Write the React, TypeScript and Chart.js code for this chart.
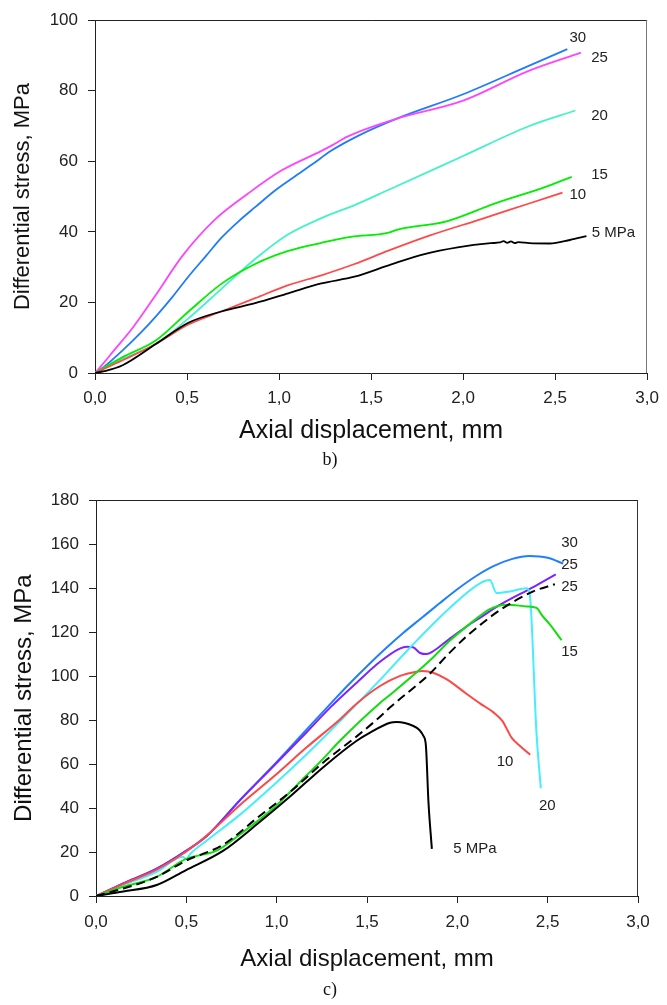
import React, { useEffect, useRef } from 'react';
import { Chart, registerables } from 'chart.js';

Chart.register(...registerables);

// ---------- Panel b) data ----------
const b30X = [0, 0.05, 0.15, 0.25, 0.33, 0.42, 0.51, 0.6, 0.69, 0.78, 0.87, 0.98, 1.08, 1.19, 1.28, 1.44, 1.64, 2.0, 2.35, 2.566];
const b30Y = [0, 1.8, 6.4, 11.5, 16.0, 21.5, 27.5, 33.0, 38.5, 43.0, 47.0, 51.8, 55.5, 59.5, 62.9, 67.5, 72.1, 79.0, 86.9, 91.8];

const b25X = [0, 0.05, 0.1, 0.206, 0.33, 0.475, 0.65, 0.83, 1.01, 1.228, 1.29, 1.371, 1.64, 2.0, 2.35, 2.64];
const b25Y = [0, 3.0, 6.2, 12.9, 22.1, 33.2, 43.4, 50.8, 57.3, 62.9, 64.6, 67.0, 72.1, 77.2, 85.5, 90.8];

const b20X = [0, 0.15, 0.33, 0.51, 0.69, 0.87, 1.05, 1.23, 1.41, 1.59, 2.0, 2.35, 2.61];
const b20Y = [0, 4.0, 8.2, 15.6, 24.0, 32.3, 39.3, 43.9, 47.6, 51.8, 61.5, 69.8, 74.4];

const b15X = [0, 0.15, 0.33, 0.51, 0.69, 0.87, 1.05, 1.23, 1.39, 1.59, 1.64, 1.91, 2.17, 2.44, 2.59];
const b15Y = [0, 4.5, 9.2, 17.5, 25.4, 30.9, 34.6, 36.9, 38.6, 39.7, 40.6, 43.0, 48.0, 52.6, 55.6];

const b10X = [0, 0.15, 0.33, 0.51, 0.69, 0.87, 1.05, 1.23, 1.41, 1.59, 1.82, 2.09, 2.35, 2.54];
const b10Y = [0, 3.6, 8.2, 13.8, 17.5, 21.2, 24.9, 27.7, 30.9, 34.6, 39.0, 43.5, 47.9, 51.1];

const b5X = [0, 0.05, 0.15, 0.33, 0.51, 0.69, 0.87, 1.05, 1.23, 1.41, 1.61, 1.79, 1.97, 2.15, 2.2, 2.22, 2.24, 2.26, 2.28, 2.3, 2.36, 2.47, 2.58, 2.67];
const b5Y = [0, 0.5, 2.2, 8.2, 14.3, 17.5, 19.8, 22.6, 25.4, 27.3, 30.8, 33.7, 35.6, 36.8, 37.0, 37.4, 36.9, 37.3, 36.8, 37.1, 36.8, 36.7, 37.7, 38.8];

const bLabelText = ['30', '25', '20', '15', '10', '5 MPa'];
const bLabelX = [2.623, 2.741, 2.741, 2.741, 2.623, 2.817];
const bLabelY = [95.0, 89.4, 72.8, 56.1, 50.6, 39.7];

// ---------- Panel c) data ----------
const c30X = [0, 0.151, 0.336, 0.496, 0.613, 0.797, 0.982, 1.166, 1.3, 1.4, 1.5, 1.6, 1.7, 1.8, 1.9, 2.0, 2.1, 2.2, 2.3, 2.4, 2.5, 2.586];
const c30Y = [0, 5.7, 12.4, 20.4, 27.3, 43.7, 59.4, 75.8, 87.6, 96.3, 104.5, 112.3, 119.6, 126.3, 133.0, 139.5, 145.3, 150.0, 153.2, 154.6, 153.8, 151.2];

const c25X = [0, 0.151, 0.336, 0.496, 0.613, 0.797, 0.982, 1.166, 1.3, 1.443, 1.572, 1.681, 1.72, 1.755, 1.794, 1.83, 1.866, 1.95, 2.05, 2.127, 2.235, 2.42, 2.545];
const c25Y = [0, 5.7, 12.4, 20.4, 27.3, 43.5, 59.0, 74.5, 86.0, 97.0, 106.5, 112.5, 113.4, 113.1, 110.5, 110.0, 111.3, 116.5, 122.5, 126.6, 132.4, 140.5, 146.3];

const c20X = [0, 0.151, 0.336, 0.48, 0.5, 0.52, 0.613, 0.797, 0.982, 1.166, 1.35, 1.554, 1.757, 1.958, 2.127, 2.18, 2.217, 2.29, 2.383, 2.401, 2.438, 2.462];
const c20Y = [0, 5.0, 11.0, 17.8, 16.8, 19.0, 25.2, 37.0, 50.4, 64.5, 79.5, 96.7, 114.6, 131.0, 142.3, 143.7, 137.8, 138.5, 140.0, 137.0, 74.3, 49.0];

const c25dX = [0, 0.151, 0.336, 0.496, 0.705, 0.889, 1.074, 1.258, 1.443, 1.572, 1.628, 1.849, 1.95, 2.05, 2.127, 2.235, 2.42, 2.54];
const c25dY = [0, 3.4, 8.7, 16.0, 23.4, 35.3, 47.3, 60.7, 72.6, 81.5, 85.8, 101.2, 110.0, 118.0, 123.3, 130.0, 138.5, 141.8];

const c15X = [0, 0.151, 0.336, 0.496, 0.668, 0.797, 0.982, 1.166, 1.258, 1.35, 1.572, 1.628, 1.849, 1.958, 2.05, 2.127, 2.18, 2.272, 2.383, 2.438, 2.47, 2.512, 2.577];
const c15Y = [0, 4.2, 8.7, 16.8, 20.6, 28.0, 40.0, 54.9, 62.5, 70.6, 87.8, 91.5, 107.2, 116.1, 122.5, 127.5, 130.5, 132.5, 131.7, 131.0, 127.5, 123.5, 116.3];

const c10X = [0, 0.151, 0.336, 0.496, 0.613, 0.797, 0.982, 1.166, 1.35, 1.45, 1.572, 1.68, 1.773, 1.81, 1.866, 1.942, 2.05, 2.127, 2.2, 2.25, 2.28, 2.3, 2.35, 2.403];
const c10Y = [0, 5.5, 12.0, 20.0, 27.5, 41.4, 54.2, 67.6, 80.3, 88.0, 95.5, 100.0, 102.0, 102.3, 101.5, 98.5, 92.0, 87.5, 83.5, 79.5, 75.0, 72.0, 68.0, 64.2];

const c5X = [0, 0.151, 0.336, 0.496, 0.705, 0.889, 1.074, 1.258, 1.443, 1.517, 1.628, 1.665, 1.757, 1.79, 1.812, 1.826, 1.84, 1.859];
const c5Y = [0, 2.0, 5.0, 11.7, 20.6, 32.5, 45.2, 58.6, 70.6, 74.3, 78.8, 79.1, 77.3, 75.5, 72.8, 68.4, 43.0, 21.4];

const cLabelText = ['30', '25', '25', '15', '10', '20', '5 MPa'];
const cLabelX = [2.621, 2.621, 2.621, 2.621, 2.264, 2.498, 2.098];
const cLabelY = [160.5, 150.7, 140.8, 110.9, 61.2, 41.1, 21.4];

const xTickStep = 0.5;
const xMax = 3;
const bYMax = 100;
const cYMax = 180;
const yTickStep = 20;

const SANS = "'Liberation Sans', Arial, Helvetica, sans-serif";

function pts(xs: number[], ys: number[]) {
  return xs.map((x, i) => ({ x, y: ys[i] }));
}

const framePlugin = {
  id: 'frame',
  afterDraw(chart: any, _args: any, opts: any) {
    const { ctx, chartArea } = chart;
    const { left, top, right, bottom } = chartArea;
    ctx.save();
    ctx.lineWidth = 1;
    ctx.strokeStyle = opts.topColor || '#222';
    ctx.beginPath();
    ctx.moveTo(left, Math.round(top) + 0.5);
    ctx.lineTo(right, Math.round(top) + 0.5);
    ctx.stroke();
    ctx.strokeStyle = opts.rightColor || '#222';
    ctx.beginPath();
    ctx.moveTo(Math.round(right) - 0.5, top);
    ctx.lineTo(Math.round(right) - 0.5, bottom);
    ctx.stroke();
    ctx.restore();
  },
};

const curveLabelPlugin = {
  id: 'curveLabels',
  afterDatasetsDraw(chart: any, _args: any, opts: any) {
    const { ctx } = chart;
    const xs = chart.scales.x;
    const ys = chart.scales.y;
    ctx.save();
    ctx.font = opts.font;
    ctx.fillStyle = opts.color;
    ctx.textAlign = 'center';
    ctx.textBaseline = 'middle';
    (opts.texts as string[]).forEach((t, i) => {
      ctx.fillText(t, xs.getPixelForValue(opts.xs[i]), ys.getPixelForValue(opts.ys[i]));
    });
    ctx.restore();
  },
};

type Series = { xs: number[]; ys: number[]; color: string; dash?: number[] };

type PanelProps = {
  width: number;
  height: number;
  series: Series[];
  yMax: number;
  area: { left: number; top: number; right: number; bottom: number };
  yTitleSize: number;
  yTitlePad: number;
  xTitleSize: number;
  xTitlePad: number;
  xTickPad: number;
  rightColor: string;
  labels: { texts: string[]; xs: number[]; ys: number[] };
  lineWidth: number;
};

function Panel(p: PanelProps) {
  const ref = useRef<HTMLCanvasElement | null>(null);
  useEffect(() => {
    if (!ref.current) return;
    const a = p.area;
    const chart = new Chart(ref.current, {
      type: 'scatter',
      data: {
        datasets: p.series.map((s) => ({
          data: pts(s.xs, s.ys),
          showLine: true,
          borderColor: s.color,
          backgroundColor: s.color,
          borderWidth: p.lineWidth,
          borderDash: s.dash || [],
          pointRadius: 0,
          pointHoverRadius: 0,
          cubicInterpolationMode: 'monotone',
          fill: false,
        })),
      },
      options: {
        animation: false,
        responsive: false,
        devicePixelRatio: 1,
        events: [],
        layout: { padding: { top: a.top, right: p.width - a.right, left: 0, bottom: 0 } },
        plugins: {
          legend: { display: false },
          tooltip: { enabled: false },
          frame: { topColor: '#222', rightColor: p.rightColor },
          curveLabels: {
            texts: p.labels.texts,
            xs: p.labels.xs,
            ys: p.labels.ys,
            font: `15px ${SANS}`,
            color: '#222',
          },
        } as any,
        scales: {
          x: {
            type: 'linear',
            min: 0,
            max: xMax,
            afterFit: (s: any) => {
              s.height = p.height - a.bottom;
            },
            ticks: {
              stepSize: xTickStep,
              padding: p.xTickPad,
              color: '#222',
              font: { family: SANS, size: 17 },
              maxRotation: 0,
              callback: (v: any) => Number(v).toFixed(1).replace('.', ','),
            },
            grid: { drawOnChartArea: false, drawTicks: true, tickLength: 7, color: '#222', lineWidth: 1 },
            border: { display: true, color: '#222', width: 1 },
            title: {
              display: true,
              text: 'Axial displacement, mm',
              color: '#111',
              font: { family: SANS, size: p.xTitleSize, lineHeight: 1.2 },
              padding: { top: 0, bottom: p.xTitlePad },
            },
          },
          y: {
            type: 'linear',
            min: 0,
            max: p.yMax,
            afterFit: (s: any) => {
              s.width = a.left;
            },
            ticks: {
              stepSize: yTickStep,
              padding: 10,
              color: '#222',
              font: { family: SANS, size: 17 },
            },
            grid: { drawOnChartArea: false, drawTicks: true, tickLength: 7, color: '#222', lineWidth: 1 },
            border: { display: true, color: '#222', width: 1 },
            title: {
              display: true,
              text: 'Differential stress, MPa',
              color: '#111',
              font: { family: SANS, size: p.yTitleSize, lineHeight: 1.2 },
              padding: { top: p.yTitlePad, bottom: 0 },
            },
          },
        },
      } as any,
      plugins: [framePlugin, curveLabelPlugin] as any,
    });
    // nudge layout padding so that the plot area lands exactly where intended
    for (let k = 0; k < 3; k++) {
      const ca = chart.chartArea;
      const pad: any = { ...(chart.options.layout as any).padding };
      const dt = a.top - ca.top;
      const dr = ca.right - a.right;
      const dl = a.left - ca.left;
      if (Math.abs(dt) < 0.5 && Math.abs(dr) < 0.5 && Math.abs(dl) < 0.5) break;
      pad.top = (pad.top || 0) + dt;
      pad.right = (pad.right || 0) + dr;
      pad.left = Math.max(0, (pad.left || 0) + dl);
      (chart.options.layout as any).padding = pad;
      chart.update();
    }
    return () => chart.destroy();
  }, []);
  return <canvas ref={ref} width={p.width} height={p.height} style={{ display: 'block' }} />;
}

const captionStyle: React.CSSProperties = {
  position: 'absolute',
  width: 60,
  textAlign: 'center',
  fontFamily: "'Liberation Serif', 'Times New Roman', serif",
  fontSize: 18,
  lineHeight: '22px',
  color: '#111',
};

export default function App() {
  const bSeries: Series[] = [
    { xs: b5X, ys: b5Y, color: '#000000' },
    { xs: b10X, ys: b10Y, color: '#ff4a4a' },
    { xs: b15X, ys: b15Y, color: '#00ee00' },
    { xs: b20X, ys: b20Y, color: '#44f2c6' },
    { xs: b25X, ys: b25Y, color: '#ff44ff' },
    { xs: b30X, ys: b30Y, color: '#1f7cff' },
  ];
  const cSeries: Series[] = [
    { xs: c5X, ys: c5Y, color: '#000000' },
    { xs: c25dX, ys: c25dY, color: '#000000', dash: [9, 5] },
    { xs: c15X, ys: c15Y, color: '#11dd11' },
    { xs: c10X, ys: c10Y, color: '#ff4747' },
    { xs: c20X, ys: c20Y, color: '#44eeff' },
    { xs: c25X, ys: c25Y, color: '#7f22ff' },
    { xs: c30X, ys: c30Y, color: '#1e80ff' },
  ];
  return (
    <div style={{ position: 'absolute', left: 0, top: 0, width: 667, height: 1005, background: '#fff', overflow: 'hidden' }}>
      <div style={{ position: 'absolute', left: 0, top: 0 }}>
        <Panel
          width={667}
          height={450}
          series={bSeries}
          yMax={bYMax}
          area={{ left: 95, top: 13, right: 652, bottom: 373 }}
          yTitleSize={22}
          yTitlePad={10}
          xTitleSize={25}
          xTitlePad={4}
          xTickPad={8}
          rightColor="#777"
          labels={{ texts: bLabelText, xs: bLabelX, ys: bLabelY }}
          lineWidth={1.8}
        />
      </div>
      <div style={{ ...captionStyle, left: 300, top: 448 }}>b)</div>
      <div style={{ position: 'absolute', left: 0, top: 480 }}>
        <Panel
          width={667}
          height={525}
          series={cSeries}
          yMax={cYMax}
          area={{ left: 96, top: 14, right: 638, bottom: 416 }}
          yTitleSize={24}
          yTitlePad={10}
          xTitleSize={24}
          xTitlePad={31}
          xTickPad={9}
          rightColor="#333"
          labels={{ texts: cLabelText, xs: cLabelX, ys: cLabelY }}
          lineWidth={2}
        />
      </div>
      <div style={{ ...captionStyle, left: 300, top: 978 }}>c)</div>
    </div>
  );
}
